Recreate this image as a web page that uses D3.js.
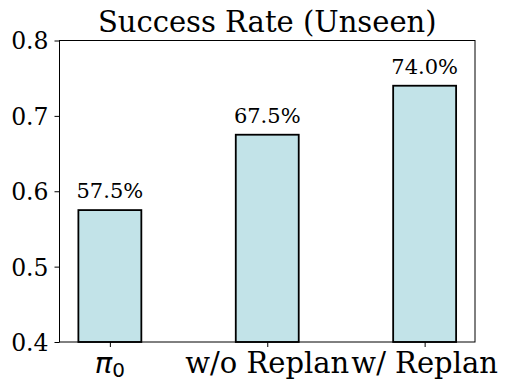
<!DOCTYPE html>
<html>
<head>
<meta charset="utf-8">
<script src="https://cdn.jsdelivr.net/npm/d3@7"></script>
<style>
  body { margin: 0; background: #fff; }
  text { font-family: "DejaVu Serif", serif; }
</style>
</head>
<body>
<div id="chart"></div>
<script>
const categories = ['pi0', 'w/o Replan', 'w/ Replan']
const rates = [0.575, 0.675, 0.74]
const valueLabels = ['57.5%', '67.5%', '74.0%']
const yTicks = [0.4, 0.5, 0.6, 0.7, 0.8]

const width = 508
const height = 390
const margin = { top: 40.5, right: 33, bottom: 48, left: 59.5 }

const svg = d3.select('#chart')
  .append('svg')
  .attr('width', width)
  .attr('height', height)

const g = svg.append('g')
  .attr('transform', `translate(${margin.left}, ${margin.top})`)

const innerW = width - margin.left - margin.right
const innerH = height - margin.top - margin.bottom

// bars sit at 0,1,2 with width 0.4, plus the usual auto margin
const x = d3.scaleLinear()
  .domain([-0.32, 2.32])
  .range([0, innerW])

const y = d3.scaleLinear()
  .domain([0.4, 0.8])
  .range([innerH, 0])

const barW = x(0.4) - x(0)

g.selectAll('rect.bar')
  .data(rates)
  .enter()
  .append('rect')
  .attr('class', 'bar')
  .attr('x', (d, i) => x(i) - barW / 2)
  .attr('y', d => y(d))
  .attr('width', barW)
  .attr('height', d => innerH - y(d))
  .attr('fill', '#c2e3e8')
  .attr('stroke', '#000')
  .attr('stroke-width', 1.8)

g.selectAll('text.val')
  .data(rates)
  .enter()
  .append('text')
  .attr('class', 'val')
  .attr('x', (d, i) => x(i))
  .attr('y', d => y(d) - 12)
  .attr('text-anchor', 'middle')
  .attr('font-size', 21)
  .text((d, i) => valueLabels[i])

// frame
g.append('rect')
  .attr('width', innerW)
  .attr('height', innerH)
  .attr('fill', 'none')
  .attr('stroke', '#000')
  .attr('stroke-width', 1)

const yAxis = g.append('g')
  .call(d3.axisLeft(y).tickValues(yTicks).tickFormat(d3.format('.1f')).tickSize(5).tickPadding(6))
yAxis.select('.domain').remove()
yAxis.selectAll('text')
  .attr('font-size', 23.5)
  .attr('font-family', 'DejaVu Serif')
  .attr('fill', '#000')
  .attr('dy', '0.36em')

const xAxis = g.append('g')
  .attr('transform', `translate(0, ${innerH})`)
  .call(d3.axisBottom(x).tickValues([0, 1, 2]).tickFormat('').tickSize(5))
xAxis.select('.domain').remove()

// x tick labels
const xl = g.append('g')
categories.forEach((c, i) => {
  const t = xl.append('text')
    .attr('x', x(i))
    .attr('y', innerH + 31)
    .attr('text-anchor', 'middle')
    .attr('font-size', 29)
  if (c === 'pi0') {
    t.append('tspan').attr('font-family', 'DejaVu Sans').attr('font-style', 'italic').text('π')
    t.append('tspan').attr('font-family', 'DejaVu Sans').attr('font-size', 20).attr('dy', 4).text('0')
  } else {
    t.text(c)
  }
})

svg.append('text')
  .attr('x', margin.left + innerW / 2)
  .attr('y', 32)
  .attr('text-anchor', 'middle')
  .attr('font-size', 29)
  .text('Success Rate (Unseen)')
</script>
</body>
</html>
